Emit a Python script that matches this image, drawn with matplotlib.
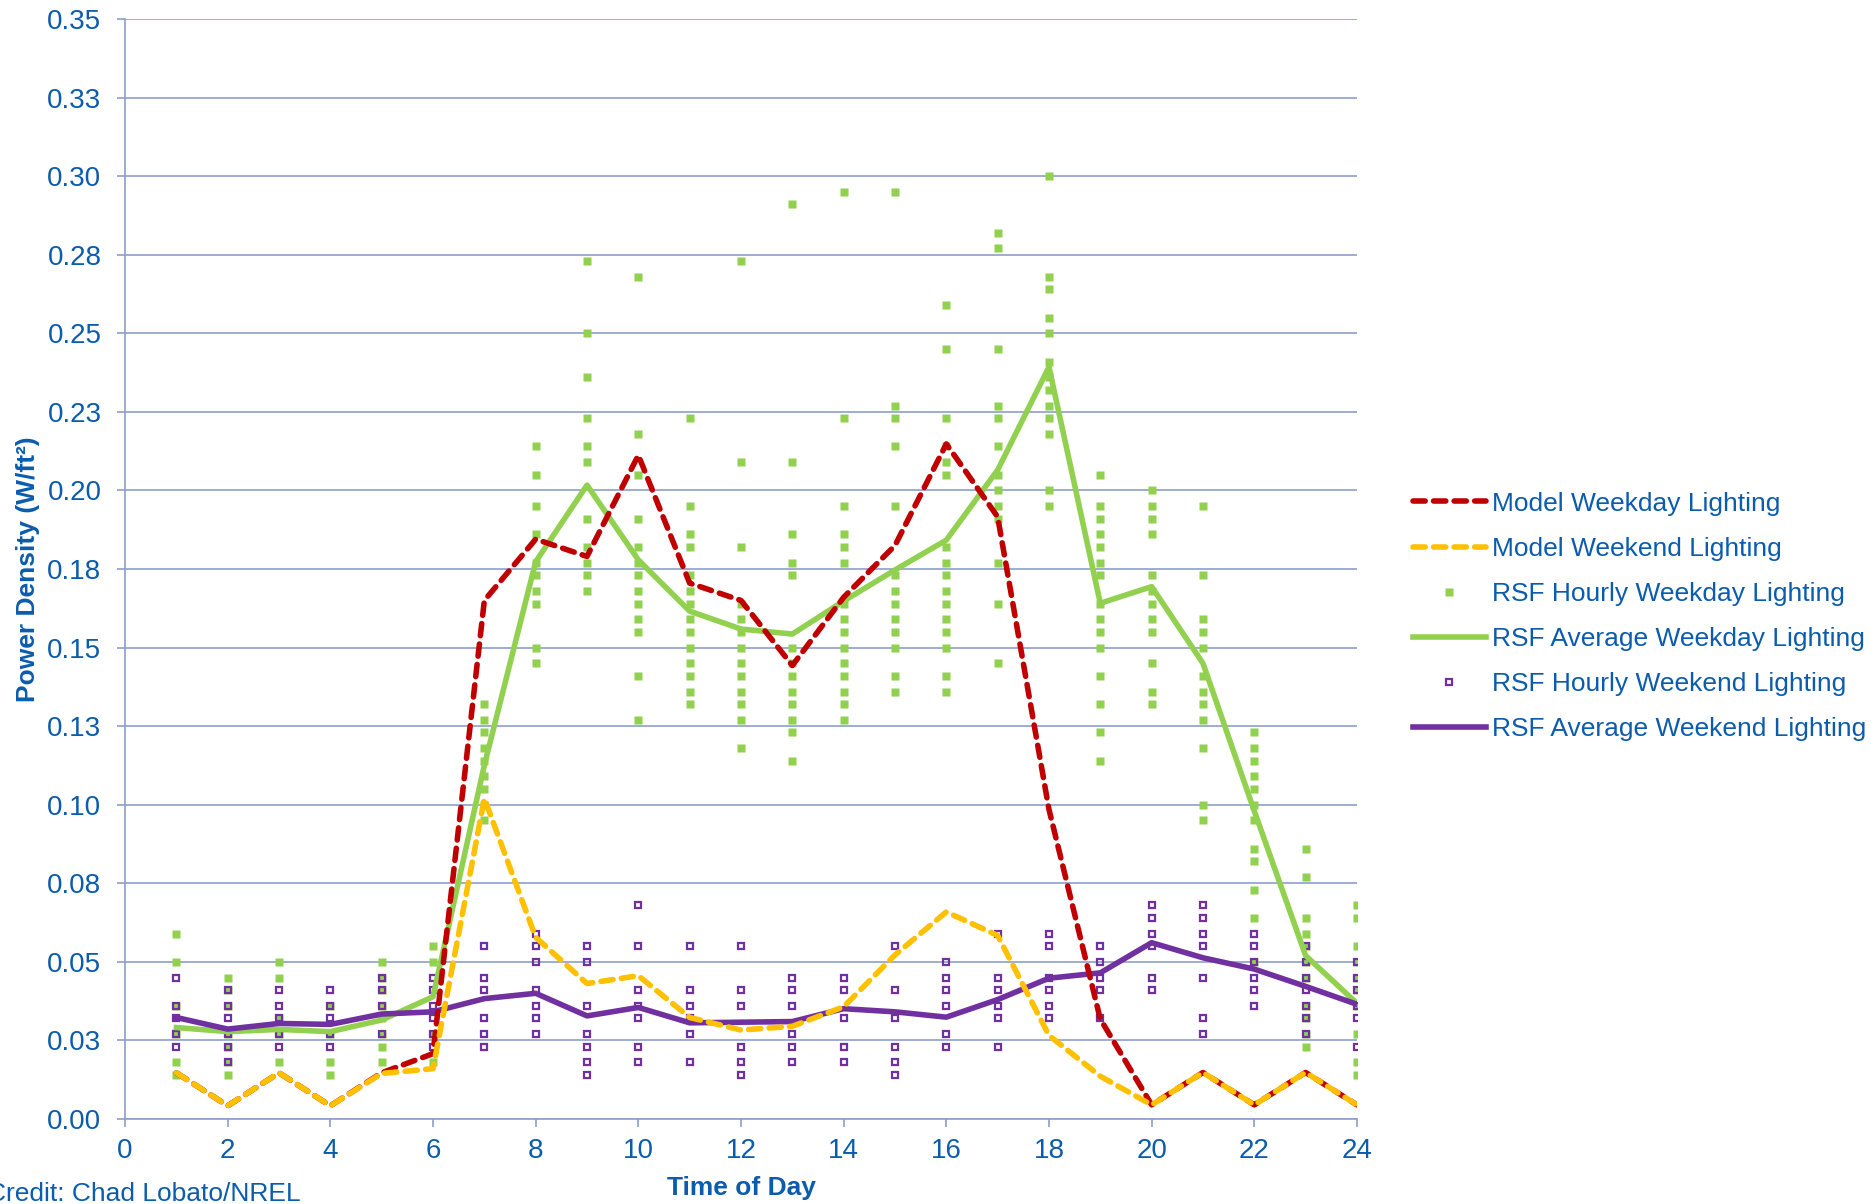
"""
Lighting power density by hour: modelled weekday/weekend profiles vs measured
RSF hourly points and their averages.
"""

import matplotlib

matplotlib.use("Agg")
import matplotlib.pyplot as plt  # noqa: E402
from matplotlib.lines import Line2D  # noqa: E402

plt.rcParams["font.family"] = ["Liberation Sans", "DejaVu Sans"]

HOURS = list(range(1, 25))

model_weekday = [0.0147, 0.0042, 0.0147, 0.0042, 0.0147, 0.0208, 0.1650, 0.1845,
                 0.1790, 0.2112, 0.1705, 0.1650, 0.1443, 0.1660, 0.1825, 0.2148,
                 0.1916, 0.0985, 0.0318, 0.0045, 0.0148, 0.0045, 0.0148, 0.0045]
model_weekend = [0.0147, 0.0042, 0.0147, 0.0042, 0.0145, 0.0160, 0.1020, 0.0578,
                 0.0431, 0.0456, 0.0323, 0.0283, 0.0295, 0.0357, 0.0522, 0.0659,
                 0.0584, 0.0266, 0.0136, 0.0045, 0.0148, 0.0045, 0.0148, 0.0045]
rsf_avg_weekday = [0.0291, 0.0278, 0.0285, 0.0278, 0.0315, 0.0389, 0.1126, 0.1773,
                   0.2017, 0.1779, 0.1616, 0.1559, 0.1543, 0.1648, 0.1747, 0.1842,
                   0.2065, 0.2393, 0.1641, 0.1694, 0.1450, 0.0980, 0.0520, 0.0368]
rsf_avg_weekend = [0.0323, 0.0286, 0.0304, 0.0301, 0.0334, 0.0341, 0.0383, 0.0400,
                   0.0328, 0.0355, 0.0306, 0.0308, 0.0310, 0.0351, 0.0341, 0.0324,
                   0.0380, 0.0448, 0.0465, 0.0561, 0.0513, 0.0477, 0.0422, 0.0365]

# measured hourly readings, one list per hour 1..24
rsf_hourly_weekday = [
    [0.059, 0.050, 0.036, 0.027, 0.018, 0.014],
    [0.045, 0.041, 0.036, 0.027, 0.023, 0.018, 0.014],
    [0.050, 0.045, 0.032, 0.027, 0.018],
    [0.036, 0.027, 0.018, 0.014],
    [0.050, 0.045, 0.041, 0.036, 0.032, 0.027, 0.023, 0.018],
    [0.055, 0.050, 0.027, 0.018],
    [0.132, 0.127, 0.123, 0.118, 0.114, 0.109, 0.105, 0.100, 0.095],
    [0.214, 0.205, 0.195, 0.186, 0.177, 0.173, 0.168, 0.164, 0.150, 0.145],
    [0.273, 0.250, 0.236, 0.223, 0.214, 0.209, 0.191, 0.182, 0.177, 0.173, 0.168],
    [0.268, 0.218, 0.205, 0.191, 0.182, 0.177, 0.173, 0.168, 0.164, 0.159, 0.155,
     0.141, 0.127],
    [0.223, 0.195, 0.186, 0.182, 0.173, 0.168, 0.164, 0.159, 0.155, 0.150, 0.145,
     0.141, 0.136, 0.132],
    [0.273, 0.209, 0.182, 0.164, 0.159, 0.155, 0.150, 0.145, 0.141, 0.136, 0.132,
     0.127, 0.118],
    [0.291, 0.209, 0.186, 0.177, 0.173, 0.150, 0.145, 0.141, 0.136, 0.132, 0.127,
     0.123, 0.114],
    [0.295, 0.223, 0.195, 0.186, 0.182, 0.177, 0.164, 0.159, 0.155, 0.150, 0.145,
     0.141, 0.136, 0.132, 0.127],
    [0.295, 0.227, 0.223, 0.214, 0.195, 0.173, 0.168, 0.164, 0.159, 0.155, 0.150,
     0.141, 0.136],
    [0.259, 0.245, 0.223, 0.214, 0.209, 0.205, 0.182, 0.177, 0.173, 0.168, 0.164,
     0.159, 0.155, 0.150, 0.141, 0.136],
    [0.282, 0.277, 0.245, 0.227, 0.223, 0.214, 0.205, 0.200, 0.195, 0.191, 0.177,
     0.164, 0.145],
    [0.300, 0.268, 0.264, 0.255, 0.250, 0.241, 0.236, 0.232, 0.227, 0.223, 0.218,
     0.200, 0.195],
    [0.205, 0.195, 0.191, 0.186, 0.182, 0.177, 0.173, 0.164, 0.159, 0.155, 0.150,
     0.141, 0.132, 0.123, 0.114],
    [0.200, 0.195, 0.191, 0.186, 0.173, 0.168, 0.164, 0.159, 0.155, 0.145, 0.136,
     0.132],
    [0.195, 0.173, 0.159, 0.155, 0.150, 0.141, 0.136, 0.132, 0.127, 0.118, 0.100,
     0.095],
    [0.123, 0.118, 0.114, 0.109, 0.105, 0.100, 0.095, 0.086, 0.082, 0.073, 0.064,
     0.050],
    [0.086, 0.077, 0.064, 0.059, 0.055, 0.050, 0.045, 0.036, 0.032, 0.027, 0.023],
    [0.068, 0.064, 0.055, 0.050, 0.045, 0.041, 0.036, 0.027, 0.018, 0.014],
]
rsf_hourly_weekend = [
    [0.045, 0.036, 0.032, 0.027, 0.023],
    [0.041, 0.036, 0.032, 0.027, 0.023, 0.018],
    [0.041, 0.036, 0.032, 0.027, 0.023],
    [0.041, 0.036, 0.032, 0.027, 0.023],
    [0.045, 0.041, 0.036, 0.027],
    [0.045, 0.041, 0.036, 0.032, 0.027, 0.023],
    [0.055, 0.045, 0.041, 0.032, 0.027, 0.023],
    [0.059, 0.055, 0.050, 0.041, 0.036, 0.032, 0.027],
    [0.055, 0.050, 0.036, 0.027, 0.023, 0.018, 0.014],
    [0.068, 0.055, 0.041, 0.036, 0.032, 0.023, 0.018],
    [0.055, 0.041, 0.036, 0.032, 0.027, 0.018],
    [0.055, 0.041, 0.036, 0.023, 0.018, 0.014],
    [0.045, 0.041, 0.036, 0.027, 0.023, 0.018],
    [0.045, 0.041, 0.032, 0.023, 0.018],
    [0.055, 0.041, 0.032, 0.023, 0.018, 0.014],
    [0.050, 0.045, 0.041, 0.036, 0.027, 0.023],
    [0.059, 0.045, 0.041, 0.036, 0.032, 0.023],
    [0.059, 0.055, 0.045, 0.041, 0.036, 0.032],
    [0.055, 0.050, 0.045, 0.041, 0.032],
    [0.068, 0.064, 0.059, 0.055, 0.045, 0.041],
    [0.068, 0.064, 0.059, 0.055, 0.045, 0.032, 0.027],
    [0.059, 0.055, 0.050, 0.045, 0.041, 0.036],
    [0.055, 0.050, 0.045, 0.041, 0.036, 0.032, 0.027],
    [0.050, 0.045, 0.041, 0.036, 0.032, 0.023],
]

XTICKS = list(range(0, 25, 2))
YTICKS = [0.0, 0.025, 0.05, 0.075, 0.1, 0.125, 0.15, 0.175, 0.2, 0.225, 0.25,
          0.275, 0.3, 0.325, 0.35]
YTICK_LABELS = ["0.00", "0.03", "0.05", "0.08", "0.10", "0.13", "0.15", "0.18",
                "0.20", "0.23", "0.25", "0.28", "0.30", "0.33", "0.35"]

RED = "#C00000"
YELLOW = "#FFC000"
GREEN = "#92D050"
PURPLE = "#7030A0"
GRID = "#8C9FCB"
TEXT = "#0B5CAD"

LW = 4.0
DASH = (2.2, 1.5)


def main():
    fig = plt.figure(figsize=(18.75, 12.04), dpi=100)
    ax = fig.add_axes([0.0667, 0.0706, 0.657, 0.9136])

    wk_x = [h for h, vals in zip(HOURS, rsf_hourly_weekday) for _ in vals]
    wk_y = [v for vals in rsf_hourly_weekday for v in vals]
    we_x = [h for h, vals in zip(HOURS, rsf_hourly_weekend) for _ in vals]
    we_y = [v for vals in rsf_hourly_weekend for v in vals]

    ax.plot(wk_x, wk_y, ls="none", marker="s", ms=5.8, mfc=GREEN, mec="none",
            zorder=2)
    ax.plot(we_x, we_y, ls="none", marker="s", ms=4.8, mfc="none", mec=PURPLE,
            mew=1.6, zorder=3)
    ax.plot(HOURS, rsf_avg_weekday, color=GREEN, lw=LW, zorder=4)
    ax.plot(HOURS, rsf_avg_weekend, color=PURPLE, lw=LW, zorder=5)
    ax.plot(HOURS, model_weekday, color=RED, lw=LW, dashes=DASH,
            dash_capstyle="round", zorder=6)
    ax.plot(HOURS, model_weekend, color=YELLOW, lw=LW, dashes=DASH,
            dash_capstyle="round", zorder=7)

    ax.set_xlim(0, 24)
    ax.set_ylim(0, 0.35)
    ax.set_xticks(XTICKS)
    ax.set_yticks(YTICKS)
    ax.set_yticklabels(YTICK_LABELS)
    ax.tick_params(axis="both", colors=GRID, labelcolor=TEXT, labelsize=20,
                   length=6, width=1.2, direction="out")
    ax.tick_params(axis="y", pad=11)
    ax.tick_params(axis="x", pad=8)
    ax.grid(axis="y", color=GRID, lw=1.2, zorder=0)
    ax.set_axisbelow(True)
    for side in ("top", "right"):
        ax.spines[side].set_visible(False)
    for side in ("left", "bottom"):
        ax.spines[side].set_color(GRID)
        ax.spines[side].set_linewidth(1.2)

    ax.set_ylabel("Power Density (W/ft²)", fontsize=19, fontweight="bold",
                  color=TEXT)
    ax.yaxis.set_label_coords(-0.069, 0.5)
    ax.set_xlabel("Time of Day", fontsize=19, fontweight="bold", color=TEXT)
    ax.xaxis.set_label_coords(0.5, -0.052)

    handles = [
        Line2D([], [], color=RED, lw=LW, dashes=DASH, dash_capstyle="round"),
        Line2D([], [], color=YELLOW, lw=LW, dashes=DASH, dash_capstyle="round"),
        Line2D([], [], ls="none", marker="s", ms=5.8, mfc=GREEN, mec="none"),
        Line2D([], [], color=GREEN, lw=LW),
        Line2D([], [], ls="none", marker="s", ms=4.8, mfc="none", mec=PURPLE, mew=1.6),
        Line2D([], [], color=PURPLE, lw=LW),
    ]
    labels = ["Model Weekday Lighting", "Model Weekend Lighting",
              "RSF Hourly Weekday Lighting", "RSF Average Weekday Lighting",
              "RSF Hourly Weekend Lighting", "RSF Average Weekend Lighting"]
    leg = fig.legend(handles, labels, loc="center left",
                     bbox_to_anchor=(0.7536, 0.488), frameon=False, fontsize=19,
                     handlelength=2.75, handletextpad=0.25, labelspacing=0.8,
                     borderpad=0, borderaxespad=0, numpoints=1)
    for t in leg.get_texts():
        t.set_color(TEXT)

    fig.text(-0.007, 0.008, "Credit: Chad Lobato/NREL", fontsize=19, color=TEXT,
             ha="left", va="center")

    fig.savefig("out.png", dpi=100)


if __name__ == "__main__":
    main()
